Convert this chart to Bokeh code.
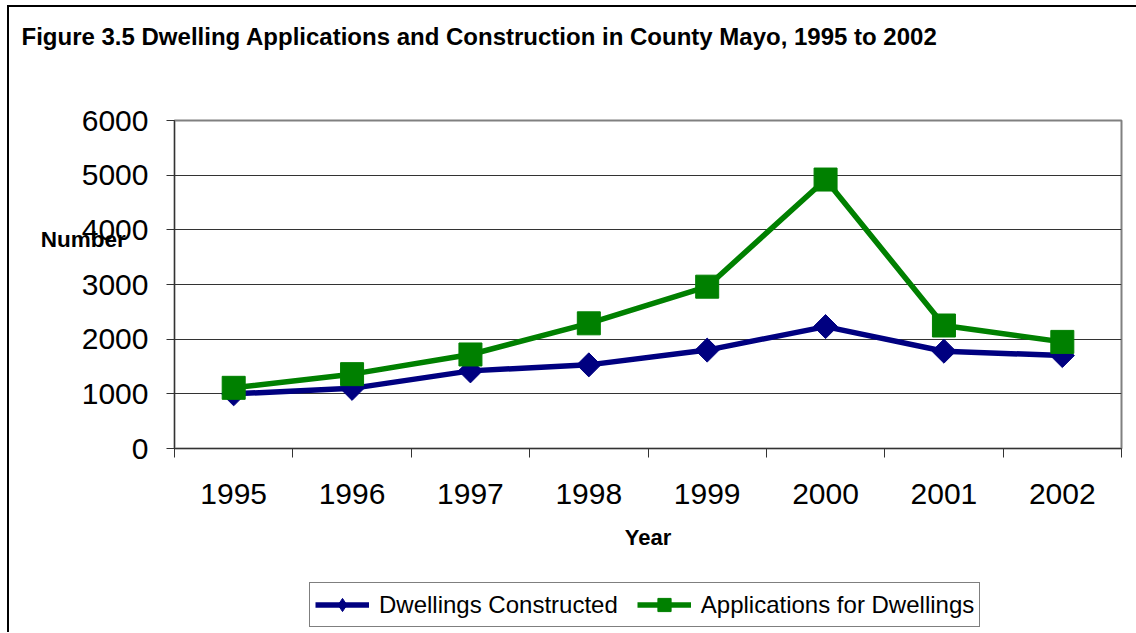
from bokeh.plotting import figure
from bokeh.models import Range1d, FixedTicker, Legend, LegendItem
from bokeh.layouts import column
from bokeh.embed import file_html
from bokeh.resources import INLINE
import numpy as np

years = ["1995", "1996", "1997", "1998", "1999", "2000", "2001", "2002"]
dwellings_constructed = [1000, 1100, 1420, 1530, 1800, 2230, 1780, 1700]
applications = [1110, 1360, 1720, 2290, 2960, 4920, 2250, 1950]
y_ticks = [0, 1000, 2000, 3000, 4000, 5000, 6000]
series_names = ["Dwellings Constructed", "Applications for Dwellings"]
chart_title = "Figure 3.5 Dwelling Applications and Construction in County Mayo, 1995 to 2002"

FONT = "Liberation Sans"
BLUE = "#000080"
GREEN = "#008000"

xpos = [i + 0.5 for i in range(len(years))]

W = 1127

# ---- title strip ----
tf = figure(width=W, height=50, output_backend="svg", toolbar_location=None,
            x_range=Range1d(0, 1), y_range=Range1d(0, 1),
            x_axis_location=None, y_axis_location=None,
            min_border_left=0, min_border_right=0, min_border_bottom=0, min_border_top=42)
tf.grid.visible = False
tf.outline_line_color = None
tf.background_fill_color = "white"
tf.border_fill_color = "white"
tf.title.text = chart_title
tf.title.text_font = FONT
tf.title.text_font_style = "bold"
tf.title.text_font_size = "24px"
tf.title.text_color = "black"
tf.title.align = "left"
tf.title.offset = -153
tf.title.standoff = 0

# ---- main chart ----
p = figure(width=W, height=505, output_backend="svg", toolbar_location=None,
           x_range=Range1d(0, len(years)), y_range=Range1d(0, 6000),
           min_border_left=165, min_border_right=W - 1112, min_border_top=63,
           min_border_bottom=114)

p.outline_line_color = "#808080"
p.outline_line_width = 2
p.background_fill_color = "white"
p.border_fill_color = "white"

# grid
p.xgrid.visible = False
p.ygrid.ticker = FixedTicker(ticks=y_ticks)
p.ygrid.grid_line_color = "#333333"
p.ygrid.grid_line_width = 1

# y axis
yax = p.yaxis[0]
yax.ticker = FixedTicker(ticks=y_ticks, minor_ticks=[])
yax.axis_line_color = "#333333"
yax.major_tick_line_color = "#333333"
yax.major_tick_out = 8
yax.major_tick_in = 0
yax.minor_tick_out = 0
yax.minor_tick_in = 0
yax.major_label_text_font = FONT
yax.major_label_text_font_size = "30px"
yax.major_label_text_color = "black"
yax.major_label_standoff = 18
yax.axis_label = "Number\n \n \n "
yax.axis_label_orientation = "horizontal"
yax.axis_label_text_font = FONT
yax.axis_label_text_font_style = "bold"
yax.axis_label_text_font_size = "22.5px"
yax.axis_label_text_color = "black"
yax.axis_label_standoff = -47

# x axis: labels at category centres, ticks at boundaries
xax = p.xaxis[0]
xax.ticker = FixedTicker(ticks=xpos, minor_ticks=list(range(len(years) + 1)))
xax.major_label_overrides = {x: y for x, y in zip(xpos, years)}
xax.axis_line_color = "#333333"
xax.major_tick_out = 0
xax.major_tick_in = 0
xax.minor_tick_out = 9
xax.minor_tick_in = 0
xax.minor_tick_line_color = "#333333"
xax.major_label_text_font = FONT
xax.major_label_text_font_size = "30px"
xax.major_label_text_color = "black"
xax.major_label_standoff = 26
xax.axis_label = "Year"
xax.axis_label_text_font = FONT
xax.axis_label_text_font_style = "bold"
xax.axis_label_text_font_size = "22px"
xax.axis_label_text_color = "black"
xax.axis_label_standoff = 18

# series
p.line(xpos, dwellings_constructed, line_color=BLUE, line_width=5.5)
p.scatter(xpos, dwellings_constructed, marker="square", size=17, angle=np.pi / 4,
          fill_color=BLUE, line_color=BLUE)
p.line(xpos, applications, line_color=GREEN, line_width=5.5)
p.scatter(xpos, applications, marker="square", size=23,
          fill_color=GREEN, line_color=GREEN)

# ---- legend strip (series re-used, lying outside this strip's view) ----
lf = figure(width=W, height=70, output_backend="svg", toolbar_location=None,
            x_range=Range1d(0, 1), y_range=Range1d(0, 1),
            x_axis_location=None, y_axis_location=None, min_border=0)
lf.grid.visible = False
lf.outline_line_color = None
lf.background_fill_color = "white"
lf.border_fill_color = "white"
ll1 = lf.line(xpos, dwellings_constructed, line_color=BLUE, line_width=5.5)
lm1 = lf.scatter(xpos, dwellings_constructed, marker="diamond", size=17,
                 fill_color=BLUE, line_color=BLUE)
ll2 = lf.line(xpos, applications, line_color=GREEN, line_width=5.5)
lm2 = lf.scatter(xpos, applications, marker="square", size=23,
                 fill_color=GREEN, line_color=GREEN)

legend = Legend(items=[LegendItem(label=series_names[0], renderers=[ll1, lm1]),
                       LegendItem(label=series_names[1], renderers=[ll2, lm2])],
                orientation="horizontal", location=(135, 5))
legend.border_line_color = "black"
legend.border_line_width = 1
legend.background_fill_color = "white"
legend.label_text_font = FONT
legend.label_text_font_size = "24px"
legend.label_text_color = "black"
legend.glyph_width = 54
legend.glyph_height = 33
legend.label_standoff = 10
legend.spacing = 19
legend.padding = 5
legend.margin = 0
lf.add_layout(legend, "center")

layout = column(tf, p, lf, spacing=0,
                styles={"margin-left": "7px", "margin-top": "5px",
                        "border-left": "2px solid black", "border-top": "2px solid black"})

open("out.html", "w").write(file_html(layout, INLINE))
